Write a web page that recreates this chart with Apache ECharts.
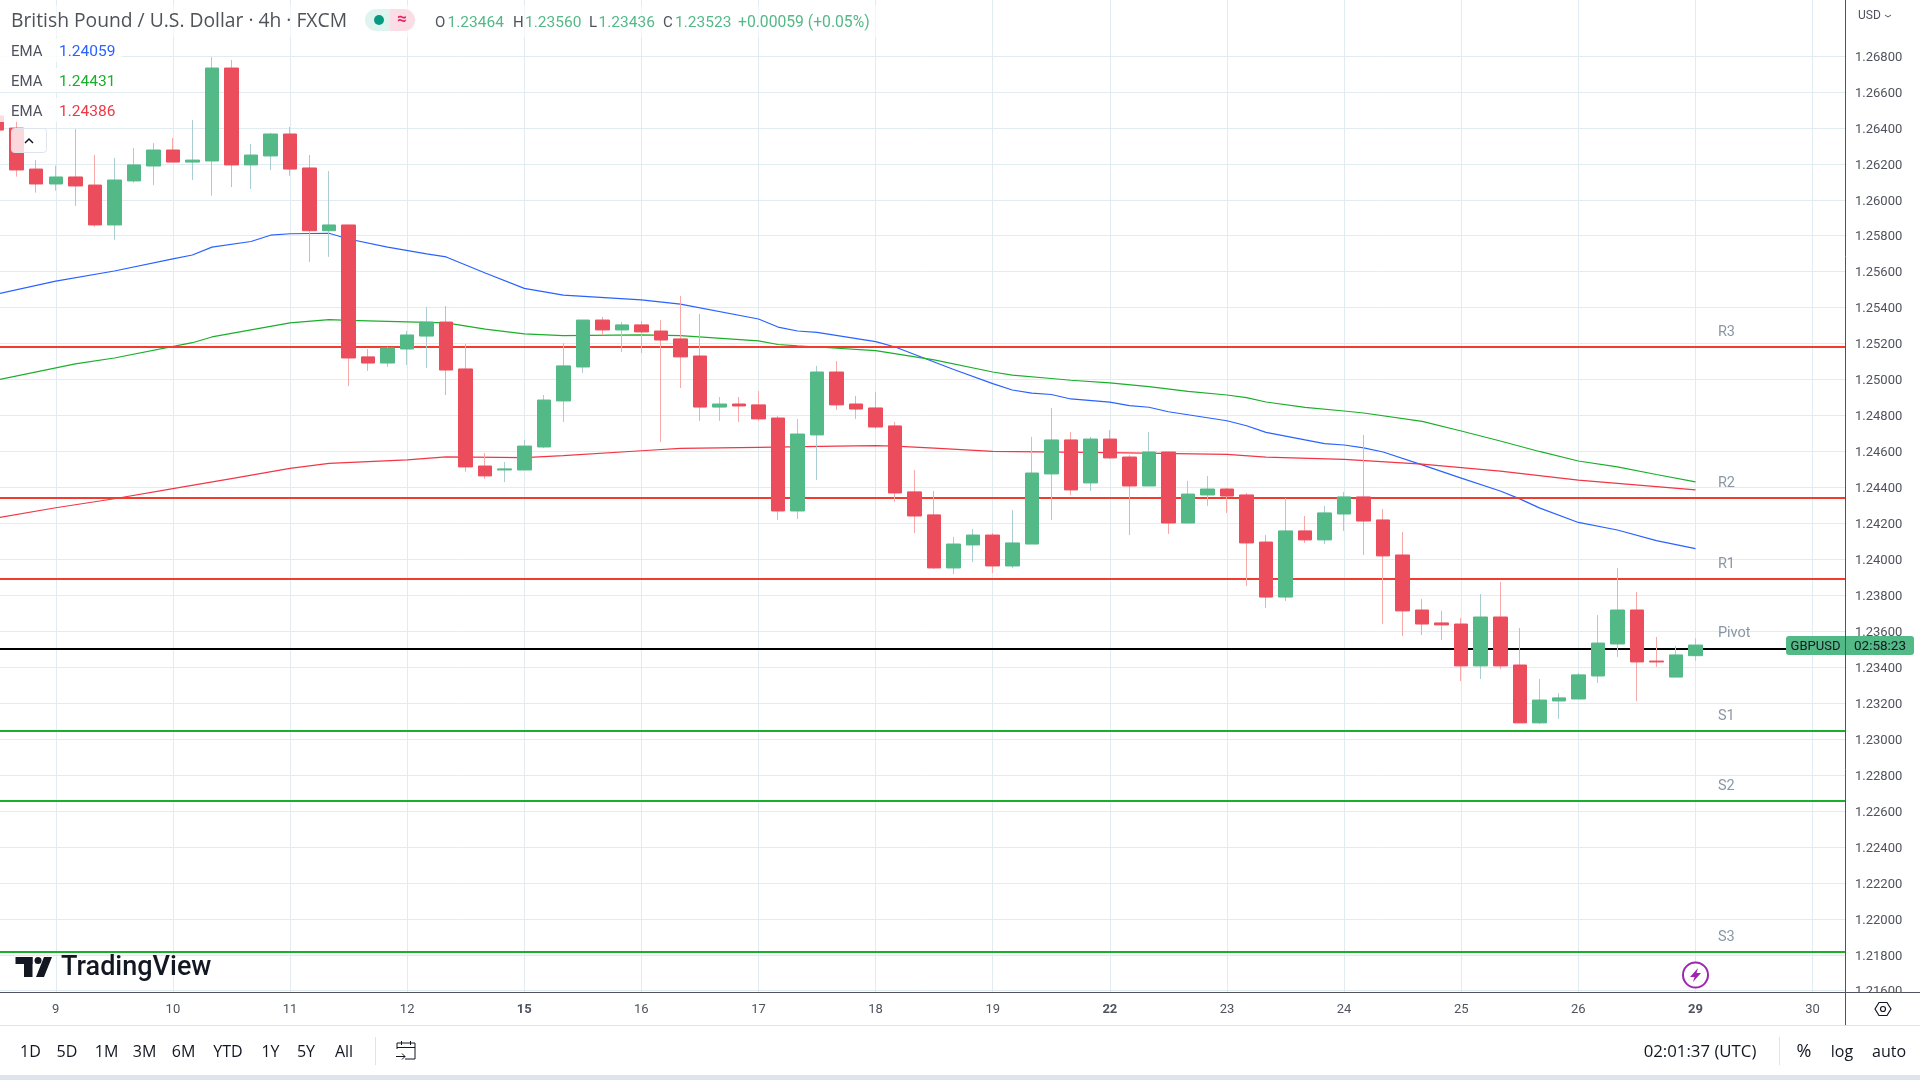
<!DOCTYPE html>
<html>
<head>
<meta charset="utf-8">
<title>GBPUSD 4h</title>
<script src="https://cdn.jsdelivr.net/npm/echarts@6/dist/echarts.min.js"></script>
<style>
  html, body { margin: 0; padding: 0; background: #fff; }
  #chart { width: 1920px; height: 1080px; }
</style>
</head>
<body>
<div id="chart"></div>
<script>
const dayBars = [3, 9, 15, 21, 27, 33, 39, 45, 51, 57, 63, 69, 75, 81, 87, 93];
const dayLabels = ["9", "10", "11", "12", "15", "16", "17", "18", "19", "22", "23", "24", "25", "26", "29", "30"];
const boldDays = ["15", "22", "29"];
const priceTicks = [1.268, 1.266, 1.264, 1.262, 1.26, 1.258, 1.256, 1.254, 1.252, 1.25, 1.248, 1.246, 1.244, 1.242, 1.24, 1.238, 1.236, 1.234, 1.232, 1.23, 1.228, 1.226, 1.224, 1.222, 1.22, 1.218, 1.216];

const opens = [1.26466, 1.26399, 1.26171, 1.26088, 1.26127, 1.26082, 1.2586, 1.26105, 1.26188, 1.26277, 1.2621, 1.26216, 1.26733, 1.26194, 1.26244, 1.26366, 1.26177, 1.25828, 1.2586, 1.25126, 1.25092, 1.2517, 1.25242, 1.2532, 1.25059, 1.24519, 1.24497, 1.24497, 1.24625, 1.24881, 1.2507, 1.25331, 1.25276, 1.25304, 1.2527, 1.25226, 1.25131, 1.24847, 1.24864, 1.24859, 1.24786, 1.24269, 1.24692, 1.25042, 1.24864, 1.24842, 1.24742, 1.24375, 1.24247, 1.23952, 1.2408, 1.24135, 1.23963, 1.24085, 1.24475, 1.24664, 1.24425, 1.24669, 1.24569, 1.24408, 1.24597, 1.24202, 1.24358, 1.24391, 1.24358, 1.24096, 1.2379, 1.24158, 1.24108, 1.24252, 1.24347, 1.24219, 1.24024, 1.23718, 1.23646, 1.2364, 1.23407, 1.23679, 1.23412, 1.2309, 1.23212, 1.23223, 1.23351, 1.23529, 1.23718, 1.23434, 1.23345, 1.23464];
const closes = [1.26388, 1.26166, 1.26088, 1.26127, 1.26077, 1.2586, 1.2611, 1.26194, 1.26277, 1.2621, 1.26221, 1.26733, 1.26194, 1.26249, 1.26366, 1.26171, 1.25828, 1.2586, 1.2512, 1.25092, 1.25176, 1.25248, 1.2532, 1.25053, 1.24514, 1.24464, 1.24503, 1.2463, 1.24886, 1.25076, 1.25331, 1.25276, 1.25304, 1.25265, 1.2522, 1.25126, 1.24847, 1.24864, 1.24853, 1.24781, 1.24269, 1.24697, 1.25042, 1.24859, 1.24836, 1.24736, 1.24369, 1.24241, 1.23952, 1.24085, 1.24135, 1.23963, 1.24091, 1.2448, 1.24664, 1.24386, 1.24669, 1.24564, 1.24408, 1.24597, 1.24202, 1.24363, 1.24391, 1.24352, 1.24091, 1.2379, 1.24158, 1.24108, 1.24258, 1.24347, 1.24213, 1.24019, 1.23713, 1.2364, 1.23635, 1.23407, 1.23679, 1.23407, 1.2309, 1.23217, 1.23229, 1.23357, 1.23534, 1.23718, 1.23429, 1.23429, 1.23468, 1.23523];
const lows = [1.26388, 1.26129, 1.2604, 1.26051, 1.25966, 1.2585, 1.25778, 1.26095, 1.26082, 1.2621, 1.2611, 1.26023, 1.26071, 1.2606, 1.26166, 1.26134, 1.25654, 1.25682, 1.24964, 1.25048, 1.2507, 1.25081, 1.25064, 1.24914, 1.24487, 1.24447, 1.2443, 1.24497, 1.24619, 1.24764, 1.25037, 1.25248, 1.25153, 1.25148, 1.24653, 1.24953, 1.2477, 1.2477, 1.24764, 1.2477, 1.24219, 1.24224, 1.24441, 1.24831, 1.24781, 1.24725, 1.24319, 1.24146, 1.23946, 1.23918, 1.23985, 1.23924, 1.23952, 1.24085, 1.24219, 1.24358, 1.2438, 1.24558, 1.24135, 1.24408, 1.24141, 1.24202, 1.24297, 1.24258, 1.23852, 1.23729, 1.23768, 1.24091, 1.24085, 1.24158, 1.24024, 1.2364, 1.23573, 1.23579, 1.23551, 1.23323, 1.23334, 1.2339, 1.2309, 1.23084, 1.23112, 1.23223, 1.23312, 1.23457, 1.23212, 1.23401, 1.23345, 1.23436];
const highs = [1.26466, 1.26444, 1.26221, 1.2619, 1.26394, 1.26249, 1.26233, 1.26288, 1.26316, 1.26344, 1.26444, 1.26794, 1.26778, 1.2631, 1.26373, 1.26405, 1.26249, 1.2616, 1.2586, 1.2517, 1.25183, 1.2527, 1.25404, 1.25409, 1.25198, 1.24592, 1.24541, 1.24664, 1.24914, 1.25203, 1.25331, 1.25348, 1.2532, 1.25326, 1.25331, 1.25465, 1.25365, 1.24903, 1.24903, 1.24936, 1.24797, 1.24781, 1.25076, 1.25103, 1.24909, 1.24931, 1.24764, 1.24497, 1.2438, 1.24124, 1.24169, 1.24146, 1.24274, 1.24681, 1.24842, 1.24708, 1.24681, 1.24719, 1.2458, 1.24708, 1.24597, 1.24436, 1.24464, 1.24397, 1.24369, 1.24135, 1.24341, 1.24241, 1.24297, 1.24375, 1.24692, 1.2428, 1.24152, 1.23779, 1.23713, 1.23674, 1.23807, 1.23874, 1.23618, 1.23334, 1.23256, 1.23368, 1.2369, 1.23952, 1.23818, 1.23568, 1.23518, 1.2356];

const blueEmaBars = [0, 3, 6, 9, 10, 11, 13, 14, 15, 17, 18, 20, 22, 23, 25, 27, 29, 33, 35, 39, 40, 41, 42, 45, 46, 49, 51, 52, 53, 54, 55, 57, 58, 59, 60, 63, 64, 65, 67, 68, 69, 70, 71, 73, 75, 77, 78, 79, 81, 83, 85, 87];
const blueEmaValues = [1.25476, 1.25548, 1.25604, 1.25671, 1.25693, 1.25737, 1.25768, 1.25803, 1.25811, 1.25814, 1.25782, 1.25737, 1.25699, 1.25682, 1.25593, 1.25507, 1.2547, 1.25443, 1.2542, 1.25337, 1.25292, 1.2527, 1.25262, 1.25211, 1.25181, 1.25056, 1.24977, 1.24942, 1.24925, 1.24917, 1.24892, 1.24874, 1.24855, 1.24846, 1.24821, 1.24771, 1.24743, 1.24706, 1.24664, 1.24644, 1.24636, 1.2462, 1.24597, 1.24525, 1.24452, 1.2438, 1.24336, 1.24286, 1.24205, 1.24163, 1.24104, 1.24059];
const greenEmaBars = [0, 4, 6, 10, 11, 15, 17, 18, 23, 25, 27, 29, 33, 35, 39, 40, 41, 42, 45, 48, 51, 52, 54, 55, 57, 59, 61, 63, 64, 65, 67, 69, 70, 73, 75, 77, 79, 81, 83, 85, 87];
const greenEmaValues = [1.24998, 1.25087, 1.2512, 1.25205, 1.25237, 1.25315, 1.25333, 1.25329, 1.25315, 1.25281, 1.25254, 1.25244, 1.25248, 1.25244, 1.25215, 1.25195, 1.25187, 1.25181, 1.25161, 1.25109, 1.25042, 1.25025, 1.25006, 1.24996, 1.24981, 1.24961, 1.24934, 1.24914, 1.24899, 1.24875, 1.24845, 1.24825, 1.24814, 1.24767, 1.24714, 1.24658, 1.246, 1.24547, 1.24514, 1.24472, 1.24431];
const redEmaBars = [0, 3, 6, 9, 12, 15, 17, 21, 23, 27, 29, 33, 35, 39, 43, 45, 46, 48, 51, 57, 63, 65, 69, 73, 77, 81, 87];
const redEmaValues = [1.2423, 1.24287, 1.24337, 1.24393, 1.24449, 1.24506, 1.24534, 1.24553, 1.2457, 1.24566, 1.24577, 1.24604, 1.24617, 1.24623, 1.2463, 1.24632, 1.2463, 1.24619, 1.24601, 1.24593, 1.24584, 1.24569, 1.24556, 1.24529, 1.24491, 1.24441, 1.24386];

const levelNames = ["R3", "R2", "R1", "Pivot", "S1", "S2", "S3"];
const levelPrices = [1.25181, 1.24341, 1.23891, 1.23503, 1.23045, 1.22656, 1.21816];
const levelColors = ["#f23c30", "#f23c30", "#f23c30", "#000000", "#1aaf2a", "#1aaf2a", "#1aaf2a"];

const FONT = "Roboto";
const WIDE_FONT = "Open Sans";
const UP = "#53b987";
const DOWN = "#eb4d5c";

const chart = echarts.init(document.getElementById("chart"), null, { renderer: "canvas" });

// 把额外的界面元素（标题、工具栏）放到图上
function txt(x, y, text, size, color, align, weight, family) {
  return {
    type: "text", z: 100, x: x, y: y + 2,
    style: { text: text, font: (weight || "normal") + " " + size + "px " + (family || FONT), fill: color, textAlign: align || "left", textVerticalAlign: "middle" },
  };
}
function box(x, y, w, h, fill, extra) {
  return { type: "rect", z: 100, shape: Object.assign({ x: x, y: y, width: w, height: h }, extra || {}), style: { fill: fill } };
}
function seg(x1, y1, x2, y2, color, width) {
  return { type: "line", z: 101, shape: { x1: x1, y1: y1, x2: x2, y2: y2 }, style: { stroke: color, lineWidth: width || 1 } };
}

const toolbarNames = ["1D", "5D", "1M", "3M", "6M", "YTD", "1Y", "5Y", "All"];
const toolbarX = [30.5, 67, 106.5, 144.5, 183.5, 228, 270.5, 306, 344];

const chrome = [
  // legend backing
  box(0, 5, 885, 32, "rgba(255,255,255,0.55)"),
  box(0, 38, 122, 24, "rgba(255,255,255,0.8)"),
  box(0, 68, 122, 24, "rgba(255,255,255,0.8)"),
  box(0, 98, 122, 24, "rgba(255,255,255,0.8)"),
  txt(11, 19.5, "British Pound / U.S. Dollar · 4h · FXCM", 19.3, "#4f5359", "left", "normal", WIDE_FONT),
  box(365, 9, 25, 22, "#dff3ef", { r: [11, 0, 0, 11] }),
  box(390, 9, 25, 22, "#fbdde6", { r: [0, 11, 11, 0] }),
  { type: "circle", z: 101, shape: { cx: 379, cy: 20, r: 5 }, style: { fill: "#089981" } },
  txt(402, 18, "≈", 17, "#e91e63", "center", "bold"),
  txt(435, 21.5, "O", 15, "#50535e"), txt(447.5, 21.5, "1.23464", 15.5, UP),
  txt(513, 21.5, "H", 15, "#50535e"), txt(525, 21.5, "1.23560", 15.5, UP),
  txt(589, 21.5, "L", 15, "#50535e"), txt(598.5, 21.5, "1.23436", 15.5, UP),
  txt(663, 21.5, "C", 15, "#50535e"), txt(675, 21.5, "1.23523", 15.5, UP),
  txt(738, 21.5, "+0.00059 (+0.05%)", 15.7, UP),
  txt(11, 50, "EMA", 15, "#50535e"), txt(59, 50, "1.24059", 15.5, "#2962ff"),
  txt(11, 80, "EMA", 15, "#50535e"), txt(59, 80, "1.24431", 15.5, "#1aaf2a"),
  txt(11, 110, "EMA", 15, "#50535e"), txt(59, 110, "1.24386", 15.5, "#f23645"),
  // collapse button
  { type: "rect", z: 100, shape: { x: 11.5, y: 128.5, width: 35, height: 24, r: 3 }, style: { fill: "rgba(255,255,255,0.78)", stroke: "#e0e3eb" } },
  { type: "polyline", z: 101, shape: { points: [[25, 143], [29, 139], [33, 143]] }, style: { stroke: "#131722", lineWidth: 1.5, fill: "none" } },
  // logo
  box(15.5, 957, 17, 7, "#131722"),
  box(24, 957, 8.5, 20, "#131722"),
  { type: "circle", z: 101, shape: { cx: 38, cy: 960.5, r: 3.5 }, style: { fill: "#131722" } },
  { type: "polygon", z: 101, shape: { points: [[44, 957], [52, 957], [44, 977], [36, 977]] }, style: { fill: "#131722" } },
  txt(61, 966, "TradingView", 27, "#131722", "left", "500"),
  // lightning
  { type: "circle", z: 101, shape: { cx: 1695.5, cy: 975, r: 12.5 }, style: { fill: "#fff", stroke: "#9c27b0", lineWidth: 2 } },
  { type: "polygon", z: 102, shape: { points: [[1698, 968], [1690, 977], [1694.5, 977], [1693, 982], [1701, 973], [1696.5, 973]] }, style: { fill: "#9c27b0" } },
  // axis corners and panes
  box(1846, 993, 74, 32, "#ffffff"),
  box(0, 1026, 1920, 49, "#ffffff"),
  box(1846, 0, 74, 30, "#ffffff"),
  box(0, 1075, 1920, 5, "#dfe3ec"),
  seg(1845.5, 0, 1845.5, 1026, "#50535e"),
  seg(0, 992.5, 1920, 992.5, "#50535e"),
  seg(0, 1025.5, 1920, 1025.5, "#e0e3eb"),
  seg(375.5, 1037, 375.5, 1065, "#e0e3eb"),
  seg(1779.5, 1037, 1779.5, 1065, "#e0e3eb"),
  txt(1858, 14, "USD", 12, "#50535e"),
  { type: "polyline", z: 101, shape: { points: [[1885, 15], [1888, 17], [1891, 15]] }, style: { stroke: "#50535e", fill: "none" } },
  // live price tags
  box(1786, 636, 59, 19, UP, { r: [3, 0, 0, 3] }),
  box(1846, 636, 68, 19, UP, { r: [0, 3, 3, 0] }),
  txt(1815.5, 645, "GBPUSD", 13, "#131722", "center"),
  txt(1880, 645, "02:58:23", 13.5, "#131722", "center"),
  // hex settings
  { type: "polygon", z: 101, shape: { points: [[1875, 1009], [1879, 1002.5], [1887, 1002.5], [1891, 1009], [1887, 1015.5], [1879, 1015.5]] }, style: { fill: "none", stroke: "#131722", lineWidth: 1.2 } },
  { type: "circle", z: 101, shape: { cx: 1883, cy: 1009, r: 2.5 }, style: { fill: "none", stroke: "#131722", lineWidth: 1.2 } },
  // calendar
  { type: "polyline", z: 101, shape: { points: [[397, 1049], [397, 1043], [415, 1043], [415, 1059], [405, 1059]] }, style: { fill: "none", stroke: "#131722" } },
  seg(397, 1047.5, 415, 1047.5, "#131722"),
  seg(401.5, 1041, 401.5, 1045, "#131722"),
  seg(410.5, 1041, 410.5, 1045, "#131722"),
  { type: "polyline", z: 101, shape: { points: [[396, 1056.5], [405, 1056.5], [402, 1053.5]] }, style: { fill: "none", stroke: "#131722" } },
  seg(405, 1056.5, 402, 1059.5, "#131722"),
  txt(1700, 1050, "02:01:37 (UTC)", 16.8, "#131722", "center", "normal", WIDE_FONT),
  txt(1804, 1050, "%", 18, "#131722", "center", "normal", WIDE_FONT),
  txt(1842, 1050, "log", 16, "#131722", "center", "normal", WIDE_FONT),
  txt(1889, 1050, "auto", 16, "#131722", "center", "normal", WIDE_FONT),
].concat(toolbarNames.map((name, i) => txt(toolbarX[i], 1050, name, 16, "#131722", "center", "normal", WIDE_FONT)));

const wickData = opens.map((o, i) => [i, o, closes[i], lows[i], highs[i]]);
const bodyData = opens.map((o, i) => [i, o, closes[i], Math.min(o, closes[i]), Math.max(o, closes[i])]);

function emaSeries(bars, values, color) {
  return {
    type: "line",
    data: bars.map((b, i) => [b, values[i]]),
    showSymbol: false,
    symbol: "none",
    silent: true,
    z: 3,
    lineStyle: { color: color, width: 1.2 },
  };
}

const option = {
  animation: false,
  backgroundColor: "#ffffff",
  grid: { left: 0, top: 0, right: 75, bottom: 88 },
  graphic: { elements: chrome },
  xAxis: {
    type: "value",
    min: 0.1434,
    max: 94.66,
    axisLine: { show: false },
    axisTick: { show: false, customValues: dayBars },
    splitLine: { show: true, lineStyle: { color: "#e1ecf2", width: 1 } },
    axisLabel: {
      customValues: dayBars,
      margin: 11,
      fontFamily: FONT,
      fontSize: 13,
      color: "#50535e",
      formatter: function (v) {
        const label = dayLabels[dayBars.indexOf(v)];
        return boldDays.indexOf(label) >= 0 ? "{b|" + label + "}" : label;
      },
      rich: { b: { fontFamily: FONT, fontSize: 13, fontWeight: "bold", color: "#50535e" } },
    },
  },
  yAxis: {
    type: "value",
    position: "right",
    min: 1.215929,
    max: 1.271115,
    axisLine: { show: false },
    axisTick: { show: false, customValues: priceTicks },
    splitLine: { show: true, lineStyle: { color: "#e1ecf2", width: 1 } },
    axisLabel: {
      customValues: priceTicks,
      margin: 10,
      verticalAlign: "top",
      lineHeight: 3,
      fontFamily: FONT,
      fontSize: 13,
      color: "#50535e",
      formatter: (v) => v.toFixed(5),
    },
  },
  series: [
    emaSeries(blueEmaBars, blueEmaValues, "#2962ff"),
    emaSeries(greenEmaBars, greenEmaValues, "#1aaf2a"),
    emaSeries(redEmaBars, redEmaValues, "#f23645"),
    {
      type: "scatter",
      symbolSize: 0,
      silent: true,
      z: 3,
      data: levelPrices.map((p, i) => [88.15, p, levelNames[i]]),
      label: {
        show: true,
        position: "right",
        distance: 0,
        offset: [0, -15],
        formatter: (p) => p.value[2],
        fontFamily: FONT,
        fontSize: 14.5,
        color: "#6b7c8e",
      },
      markLine: {
        silent: true,
        symbol: "none",
        precision: 5,
        label: { show: false },
        lineStyle: { type: "solid", width: 2 },
        data: levelPrices.map((p, i) => ({ yAxis: p, lineStyle: { color: levelColors[i], type: "solid", width: 2 } })),
      },
    },
    {
      type: "candlestick",
      silent: true,
      z: 5,
      barWidth: 1,
      data: wickData,
      itemStyle: { color: "#a9cdd3", color0: "#f7a9a7", borderColor: "#a9cdd3", borderColor0: "#f7a9a7", borderWidth: 1 },
    },
    {
      type: "candlestick",
      silent: true,
      z: 6,
      barWidth: 14,
      data: bodyData,
      itemStyle: { color: UP, color0: DOWN, borderColor: UP, borderColor0: DOWN, borderWidth: 1 },
    },
  ],
};
chart.setOption(option);
</script>
</body>
</html>
